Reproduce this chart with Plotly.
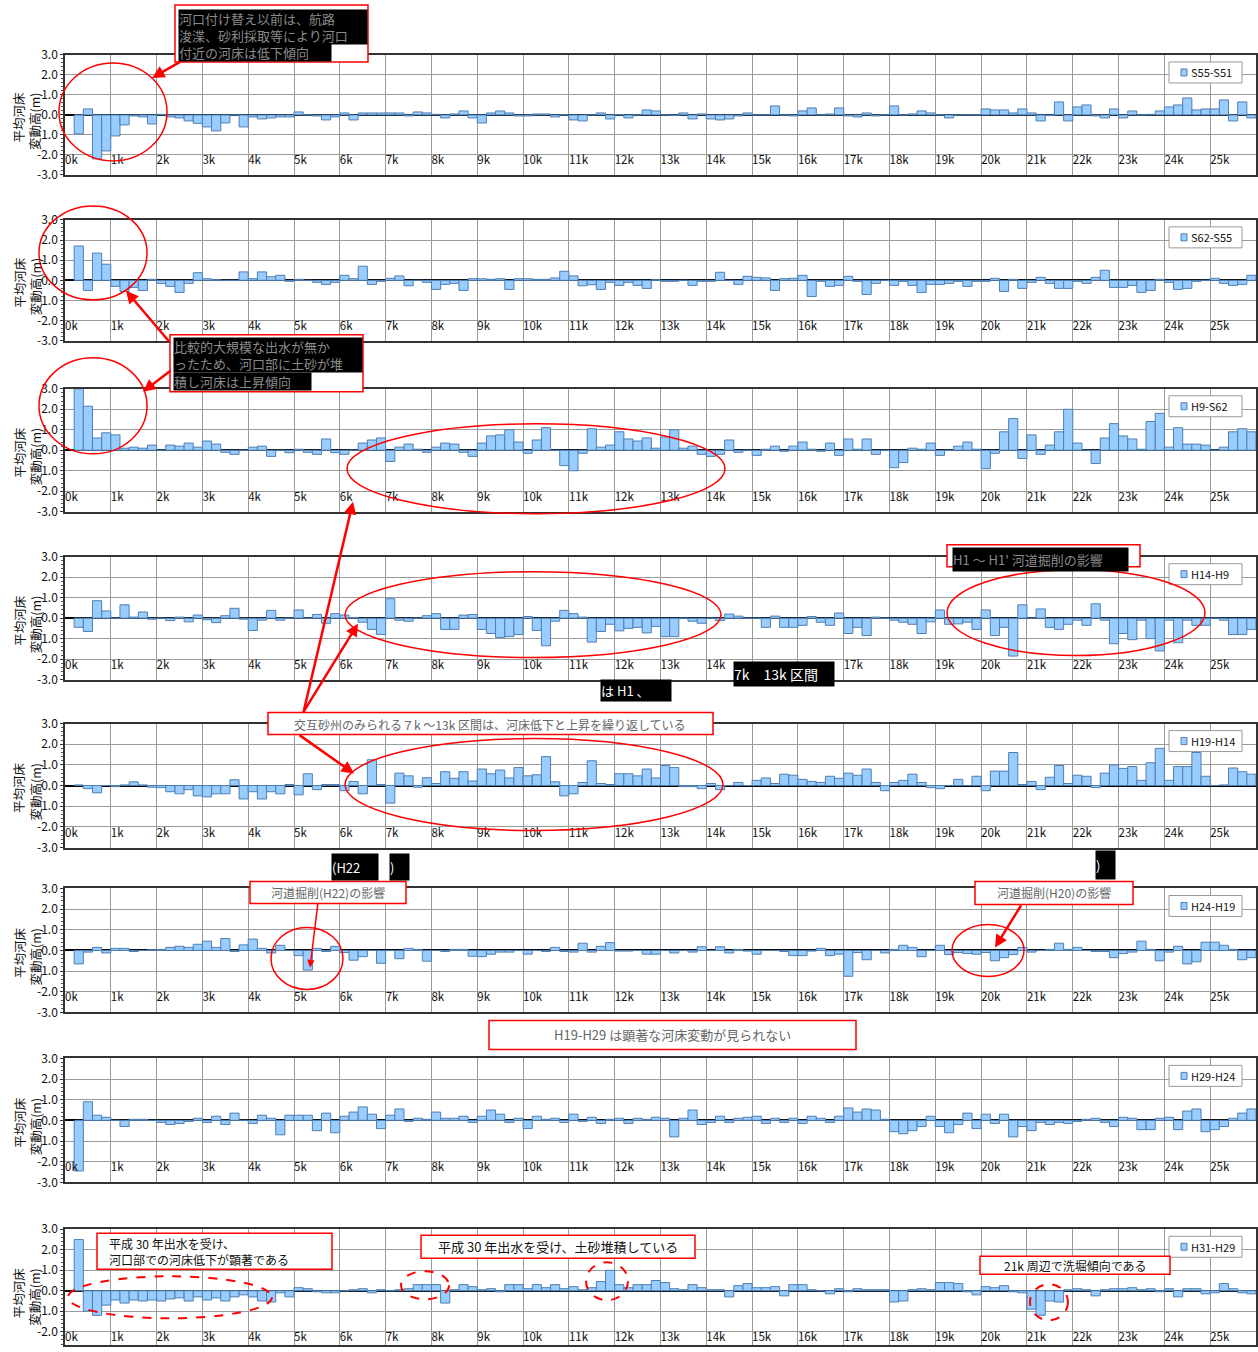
import plotly.graph_objects as go

W, H = 1258, 1352
FONT = "Noto Sans CJK JP"

# ---- data -------------------------------------------------------------
DIST = [round(0.2 * i, 1) for i in range(1, 130)]          # bar start (km)
KM_TICKS = list(range(0, 26))
KM_LABELS = [f"{k}k" for k in KM_TICKS]
Y_TICKS = [3, 2, 1, 0, -1, -2, -3]
Y_LABELS = ["3.0", "2.0", "1.0", "0.0", "-1.0", "-2.0", "-3.0"]
SERIES_NAMES = ["S55-S51", "S62-S55", "H9-S62", "H14-H9",
                "H19-H14", "H24-H19", "H29-H24", "H31-H29"]
HIDDEN_LABELS = {3: (15, 16)}   # km labels covered by the black note box in panel 4

s55_s51 = [-0.95, 0.3, -2.2, -1.8,
           -1.05, -0.5, -0.05, -0.1, -0.45,
           0.03, -0.1, -0.15, -0.3, -0.42,
           -0.6, -0.8, -0.4, 0, -0.6,
           -0.1, -0.2, -0.15, -0.1, -0.1,
           0.15, 0, -0.05, -0.25, -0.1,
           0.1, -0.25, 0.1, 0.1, 0.1,
           0.1, 0.1, -0.05, 0.15, 0.1,
           0.03, -0.15, 0.05, 0.2, -0.15,
           -0.4, 0.1, 0.2, 0.1, -0.05,
           -0.05, 0.05, 0.05, -0.1, 0,
           -0.25, -0.3, 0, 0.1, -0.2,
           0.02, -0.15, 0, 0.25, 0.2,
           0, -0.03, 0.1, -0.2, 0.05,
           -0.2, -0.25, -0.2, -0.05, 0.1,
           0, 0, 0.45, 0, -0.05,
           0.2, 0.35, 0, 0.05, 0.35,
           -0.05, -0.1, 0.1, -0.05, 0,
           0.45, 0, 0.05, 0.2, 0.1,
           0, -0.15, 0, 0, 0,
           0.3, 0.25, 0.25, 0.1, 0.3,
           0.1, -0.3, -0.03, 0.65, -0.3,
           0.4, 0.5, -0.05, -0.15, 0.3,
           -0.15, 0.2, 0, 0.03, 0.2,
           0.4, 0.5, 0.85, 0.25, 0.3,
           0.3, 0.75, -0.3, 0.65, -0.15]

s62_s55 = [1.7, -0.5, 1.35, 0.8,
           -0.3, -0.55, -0.35, -0.5, 0.05,
           -0.15, -0.3, -0.6, -0.15, 0.38,
           0.08, 0.03, 0, 0, 0.42,
           0.08, 0.42, 0.18, 0.25, -0.05,
           0.05, 0, -0.1, -0.2, -0.1,
           0.25, 0.08, 0.7, -0.2, -0.05,
           0.1, 0.22, -0.27, 0, -0.1,
           -0.45, -0.2, -0.15, -0.5, 0.08,
           0.08, 0.05, 0.08, -0.45, 0.08,
           0.08, 0.05, 0.05, 0.12, 0.45,
           0.22, -0.27, -0.22, -0.45, -0.1,
           -0.25, -0.1, -0.25, -0.4, 0.03,
           -0.05, -0.05, 0, -0.25, -0.05,
           -0.05, 0.4, 0, -0.2, 0.2,
           0.15, 0.12, -0.5, 0.08, 0.1,
           0.25, -0.8, -0.05, -0.3, -0.25,
           0.2, -0.05, -0.7, -0.15, 0,
           -0.25, -0.05, -0.25, -0.6, -0.2,
           -0.2, -0.15, -0.05, -0.3, -0.05,
           -0.05, 0.1, -0.55, 0.05, -0.4,
           -0.1, 0.15, -0.15, -0.4, -0.4,
           -0.05, -0.15, 0.15, 0.5, -0.35,
           -0.35, -0.25, -0.6, -0.5, 0.05,
           -0.1, -0.45, -0.4, -0.05, 0,
           0.1, -0.15, -0.25, -0.2, 0.25]

h9_s62 = [3.0, 2.15, 0.6, 0.85,
          0.75, 0.1, 0.15, 0.1, 0.25,
          0, 0.25, 0.2, 0.35, 0.15,
          0.45, 0.3, -0.1, -0.2, 0,
          0.15, 0.2, -0.3, 0, -0.12,
          0.05, -0.1, -0.2, 0.55, -0.12,
          -0.2, 0, 0.35, 0.5, 0.6,
          -0.55, 0.15, 0.3, 0.05, -0.1,
          0.15, 0.35, 0.3, -0.1, -0.3,
          0.35, 0.7, 0.75, 1.0, 0.4,
          -0.15, 0.5, 1.1, 0, -0.75,
          -1.0, -0.15, 1.05, 0.15, 0.25,
          0.9, 0.55, 0.45, 0.6, 0.1,
          0.65, 1.0, 0.1, 0.2, -0.2,
          -0.3, -0.2, 0.5, -0.1, 0,
          -0.25, 0.05, 0.2, -0.05, 0.2,
          0.4, 0.05, -0.05, 0.35, -0.25,
          0.55, 0.05, 0.55, -0.2, 0,
          -0.85, -0.6, 0.1, 0.05, 0.35,
          -0.25, 0, 0.2, 0.4, 0.05,
          -0.9, -0.15, 0.9, 1.55, -0.4,
          0.75, -0.2, 0.25, 0.9, 2.0,
          0.35, 0, -0.65, 0.6, 1.3,
          0.7, 0.55, 0.05, 1.4, 1.8,
          0.15, 1.1, 0.3, 0.3, 0.25,
          0, 0.15, 0.9, 1.05, 0.9]

h14_h9 = [-0.45, -0.65, 0.85, 0.35,
          0, 0.65, 0.05, 0.3, -0.05,
          0, -0.12, 0.05, -0.18, 0.15,
          -0.08, -0.22, 0.12, 0.48, -0.05,
          -0.6, -0.1, 0.38, -0.1, 0,
          0.4, 0, 0.18, -0.25, 0.22,
          0.15, 0.03, -0.2, -0.55, -0.8,
          0.95, -0.1, -0.15, 0, 0.12,
          0.22, -0.55, -0.55, 0.15, 0.18,
          -0.55, -0.75, -0.95, -0.9, -0.8,
          0.08, -0.6, -1.35, -0.15, 0.38,
          0.22, 0.05, -1.17, -0.65, -0.3,
          -0.62, -0.5, -0.45, -0.72, -0.4,
          -0.9, -0.9, 0, -0.15, -0.25,
          0, -0.12, 0.2, 0.1, 0,
          0, -0.45, 0.1, -0.45, -0.45,
          -0.35, 0.08, -0.2, -0.35, 0.25,
          -0.75, -0.45, -0.85, 0.05, 0,
          -0.1, -0.2, -0.3, -0.75, -0.18,
          0.4, -0.3, -0.28, -0.2, -0.55,
          0.4, -0.85, -0.45, -1.85, 0.65,
          0, 0.45, -0.45, -0.55, -0.3,
          -0.1, -0.35, 0.7, -0.1, -1.25,
          -0.75, -1.05, -0.1, -1.0, -1.6,
          -0.1, -1.2, -0.1, -0.35, -0.35,
          0, -0.1, -0.8, -0.8, -0.55]

h19_h14 = [0.03, -0.15, -0.35, 0,
           -0.05, 0.03, 0.18, 0.03, -0.08,
           -0.1, -0.3, -0.4, -0.2, -0.5,
           -0.55, -0.4, -0.4, 0.28, -0.65,
           -0.3, -0.65, -0.3, -0.4, 0.05,
           -0.45, 0.57, -0.2, 0.05, 0.05,
           -0.25, 0.2, -0.4, 1.25, 0.05,
           -0.85, 0.6, 0.47, -0.08, 0.38,
           0.1, 0.67, 0.35, 0.67, 0.22,
           0.8, 0.57, 0.75, 0.37, 0.87,
           0.47, 0.52, 1.4, 0.18, -0.5,
           -0.4, 0.15, 1.2, 0.1, 0.05,
           0.57, 0.57, 0.47, 0.8, 0.37,
           0.97, 0.87, -0.05, -0.05, -0.15,
           0.1, -0.2, 0, 0.15, 0,
           0.25, 0.37, 0.1, 0.55, 0.5,
           0.3, 0.2, 0.15, 0.45, 0.35,
           0.6, 0.5, 0.8, 0.15, -0.25,
           0.15, 0.25, 0.55, 0.15, -0.1,
           -0.15, 0, 0.3, 0, 0.45,
           -0.25, 0.7, 0.7, 1.6, 0.05,
           0.2, -0.2, 0.4, 0.97, 0.1,
           0.5, 0.45, -0.1, 0.6, 1.0,
           0.83, 0.92, 0.25, 1.1, 1.8,
           0.25, 0.92, 0.92, 1.6, 0.45,
           0, 0.03, 0.85, 0.67, 0.55]

h24_h19 = [-0.65, -0.08, 0.15, -0.12,
           0.1, 0.1, -0.05, 0, 0.03,
           0.05, 0.15, 0.2, 0.15, 0.3,
           0.45, 0.15, 0.58, -0.05, 0.27,
           0.55, 0.1, -0.12, 0.25, 0,
           -0.25, -0.95, 0.1, -0.05, 0.2,
           -0.1, -0.47, -0.3, 0, -0.62,
           0, -0.4, 0.1, 0.05, -0.52,
           0, -0.05, 0.05, 0.05, -0.28,
           -0.3, -0.18, -0.08, -0.08, 0,
           -0.18, 0, -0.05, 0.15, -0.05,
           -0.08, 0.35, -0.08, 0.2, 0.38,
           -0.03, -0.03, 0, -0.18, -0.18,
           0, -0.12, 0, -0.08, 0.18,
           0, 0.18, -0.12, 0.05, -0.03,
           -0.18, 0, 0, -0.05, -0.25,
           -0.25, -0.03, 0.1, -0.25, -0.18,
           -1.25, -0.1, -0.45, 0, -0.12,
           0.05, 0.25, 0.15, -0.3, 0,
           0.25, -0.2, -0.1, -0.15, -0.18,
           -0.1, -0.5, -0.35, -0.2, 0.15,
           -0.08, 0, 0.05, 0.35, 0.05,
           0.15, 0, -0.05, -0.05, -0.35,
           -0.15, -0.08, 0.45, 0.05, -0.5,
           -0.08, 0.2, -0.65, -0.55, 0.4,
           0.4, 0.25, 0.05, -0.45, -0.35]

h29_h24 = [-2.45, 0.9, 0.25, 0.15,
           0, -0.3, 0.05, 0.05, 0,
           -0.1, -0.2, -0.15, -0.05, 0.1,
           -0.1, 0.2, -0.2, 0.35, 0,
           -0.15, 0.25, 0.1, -0.7, 0.25,
           0.25, 0.25, -0.5, 0.35, -0.6,
           0.2, 0.4, 0.65, 0.3, -0.4,
           0.25, 0.55, -0.05, 0.1, 0.05,
           0.4, 0.1, 0.1, 0.2, -0.1,
           0.2, 0.5, 0.3, -0.1, 0.1,
           -0.4, 0.2, 0.05, 0.1, -0.1,
           0.3, -0.05, 0.15, -0.15, 0.05,
           0.1, -0.15, 0.1, 0.05, 0.15,
           0.1, -0.8, 0.1, 0.5, -0.2,
           -0.1, 0.2, -0.1, 0.1, 0.15,
           0.2, -0.15, 0.1, -0.1, 0.1,
           -0.15, 0.2, 0.1, -0.1, 0.2,
           0.6, 0.4, 0.55, 0.5, 0.05,
           -0.55, -0.65, -0.5, -0.3, 0.2,
           -0.3, -0.6, -0.2, 0.35, -0.4,
           0.3, -0.15, 0.3, -0.8, -0.3,
           -0.5, -0.1, -0.2, -0.1, -0.15,
           -0.05, 0.05, 0.1, -0.1, -0.3,
           0.15, 0.1, -0.45, -0.45, 0.1,
           0.15, -0.45, 0.45, 0.55, -0.55,
           -0.45, -0.3, 0.1, 0.35, 0.55]

h31_h29 = [2.5, -1.0, -1.2, -0.7,
           -0.45, -0.6, -0.45, -0.5, -0.45,
           -0.5, -0.4, -0.35, -0.5, -0.3,
           -0.45, -0.35, -0.5, -0.3, -0.2,
           -0.3, -0.5, -0.55, -0.1, -0.3,
           0.15, 0.1, -0.05, -0.1, -0.1,
           0, 0.05, 0.1, -0.1, 0.05,
           0, 0.05, 0.1, 0.3, 0.3,
           0.3, -0.6, 0.05, 0.3, 0.2,
           0.05, 0.1, -0.05, 0.3, 0.3,
           0.1, 0.3, 0.15, 0.3, 0.1,
           0.2, 0.05, 0.15, 0.45, 1.0,
           0.3, 0.15, 0.3, 0.3, 0.5,
           0.4, 0.1, 0.05, 0.3, 0.15,
           0.05, 0.05, -0.3, 0.25, 0.35,
           0.15, 0.15, 0.2, -0.25, 0.3,
           0.3, 0.05, 0, -0.15, 0.1,
           -0.05, 0.1, 0.05, 0.05, 0.05,
           -0.55, -0.5, 0.05, 0.1, 0.05,
           0.4, 0.4, 0.35, -0.05, -0.2,
           0.2, 0.15, 0.25, -0.05, -0.1,
           -0.9, -1.2, -0.5, -0.55, 0.05,
           0.1, 0.05, -0.25, 0.05, 0.1,
           0.1, 0.15, 0.05, 0.1, -0.05,
           0.1, -0.3, 0.1, 0.1, -0.15,
           -0.1, 0.35, 0.1, -0.1, -0.15]

SERIES = [s55_s51, s62_s55, h9_s62, h14_h9, h19_h14, h24_h19, h29_h24, h31_h29]

# ---- layout helpers (target pixel -> paper) ---------------------------
# the page photo adds ~8px above the figure and squeezes it vertically a little;
# target positions are pre-compensated so they land where the reference has them.
OFF_Y, SCALE_Y = 8.0, 0.988


def PX(x):
    return x / W


def YP(y):
    """target pixel row -> figure pixel row"""
    return (y - OFF_Y) / SCALE_Y


def PY(y):
    return 1 - YP(y) / H


PANELS = [(53, 173), (218, 339), (387, 510), (555, 678),
          (722, 846), (887, 1011), (1057, 1181), (1228, 1351)]
X_LEFT, X_RIGHT = 65, 1256

BAR_FILL = "#99CCFF"
BAR_LINE = "#4F7FB0"
GRID = "#9a9a9a"
RED = "#FF0000"

fig = go.Figure()
layout = dict(width=W, height=H, margin=dict(l=0, r=0, t=0, b=0),
              paper_bgcolor="white", plot_bgcolor="white",
              showlegend=False, font=dict(family=FONT, color="black"))
shapes, annotations = [], []

for i, (top, bot) in enumerate(PANELS):
    n = "" if i == 0 else str(i + 1)
    xa, ya = "x" + n, "y" + n
    t_f, b_f = YP(top), YP(bot)
    ymin = -3.0
    if b_f > H:                       # bottom of the last panel runs off the page
        ymin = 3.0 - 6.0 * (H - t_f) / (b_f - t_f)
        b_f = H
    hidden = HIDDEN_LABELS.get(i, ())
    labels = ["" if k in hidden else lab for k, lab in zip(KM_TICKS, KM_LABELS)]
    fig.add_trace(go.Bar(x=DIST, y=SERIES[i], width=0.2, offset=0,
                         marker=dict(color=BAR_FILL, line=dict(color=BAR_LINE, width=1)),
                         xaxis=xa, yaxis=ya, name=SERIES_NAMES[i], hoverinfo="x+y"))
    fig.add_trace(go.Scatter(x=KM_TICKS, y=[-2.33] * len(KM_TICKS), mode="text",
                             text=labels, textposition="middle right",
                             textfont=dict(size=11.5, color="#111", family=FONT),
                             xaxis=xa, yaxis=ya, hoverinfo="skip", showlegend=False))
    layout["xaxis" + n] = dict(domain=[PX(X_LEFT), PX(X_RIGHT)], range=[0, 26],
                               anchor=ya, tick0=0, dtick=1, showgrid=True,
                               gridcolor=GRID, gridwidth=1, showticklabels=False,
                               ticks="", zeroline=False, showline=True, mirror=True,
                               linecolor="#333", linewidth=1.5, fixedrange=True)
    layout["yaxis" + n] = dict(domain=[1 - b_f / H, 1 - t_f / H], range=[ymin, 3], anchor=xa,
                               tickvals=Y_TICKS, ticktext=Y_LABELS,
                               tickfont=dict(size=12, color="#111", family=FONT),
                               showgrid=True, gridcolor=GRID, gridwidth=1,
                               zeroline=True, zerolinecolor="black", zerolinewidth=1.5,
                               showline=True, mirror=True, linecolor="#333", linewidth=1.5,
                               ticks="outside", ticklen=3, tickcolor="#333",
                               minor=dict(dtick=0.2, ticks="outside", ticklen=2, tickcolor="#555"),
                               fixedrange=True)
    # y-axis title
    annotations.append(dict(x=PX(27), y=PY((top + bot) / 2 + 6), xref="paper", yref="paper",
                            text="平均河床<br>変動高(m)", textangle=-90, showarrow=False,
                            align="right", font=dict(size=12.5, color="#111", family=FONT),
                            xanchor="center", yanchor="middle"))
    # legend box
    lt = top + 7
    shapes.append(dict(type="rect", xref="paper", yref="paper", x0=PX(1169), x1=PX(1242),
                       y0=PY(lt), y1=PY(lt + 21), line=dict(color="#999", width=1),
                       fillcolor="white", layer="above"))
    shapes.append(dict(type="rect", xref="paper", yref="paper", x0=PX(1181), x1=PX(1187),
                       y0=PY(lt + 7), y1=PY(lt + 14), line=dict(color=BAR_LINE, width=1),
                       fillcolor=BAR_FILL, layer="above"))
    annotations.append(dict(x=PX(1189), y=PY(lt + 10.5), xref="paper", yref="paper",
                            text=SERIES_NAMES[i], showarrow=False, xanchor="left",
                            yanchor="middle", font=dict(size=11, color="#111", family=FONT)))


# ---- callouts ---------------------------------------------------------
def red_rect(x0, y0, x1, y1, fill=None):
    shapes.append(dict(type="rect", xref="paper", yref="paper", x0=PX(x0), x1=PX(x1),
                       y0=PY(y0), y1=PY(y1), line=dict(color=RED, width=1.5),
                       fillcolor=fill if fill else "rgba(0,0,0,0)", layer="above"))


def ellipse(cx, cy, rx, ry, width=1.5, dash="solid"):
    shapes.append(dict(type="circle", xref="paper", yref="paper",
                       x0=PX(cx - rx), x1=PX(cx + rx), y0=PY(cy + ry), y1=PY(cy - ry),
                       line=dict(color=RED, width=width, dash=dash), layer="above"))


def black_line(x, y, text, w, h=16.5, color="#8a8a8a", size=13):
    annotations.append(dict(x=PX(x), y=PY(y), xref="paper", yref="paper", text=text,
                            showarrow=False, xanchor="left", yanchor="top",
                            width=w, height=h, align="left", valign="middle",
                            bgcolor="black", borderpad=0,
                            font=dict(size=size, color=color, family=FONT)))


def box_text(cx, cy, text, size=12, color="#666", align="center", xanchor="center", x=None):
    annotations.append(dict(x=PX(cx if x is None else x), y=PY(cy), xref="paper", yref="paper",
                            text=text, showarrow=False, xanchor=xanchor, yanchor="middle",
                            align=align, font=dict(size=size, color=color, family=FONT)))


def arrow(hx, hy, tx, ty, width=2.5):
    annotations.append(dict(x=PX(hx), y=PY(hy), xref="paper", yref="paper", text="",
                            showarrow=True, ax=tx - hx, ay=YP(ty) - YP(hy), arrowcolor=RED,
                            arrowwidth=width, arrowhead=2, arrowsize=1))


# panel 1 callout
red_rect(175, 3, 368, 60, fill="white")
black_line(178, 6.5, "河口付け替え以前は、航路", 188)
black_line(178, 24, "浚渫、砂利採取等により河口", 188)
black_line(178, 41.5, "付近の河床は低下傾向", 152)
ellipse(113, 110, 54, 49)
arrow(152, 76, 182, 59)

# panel 2/3 callout
ellipse(93, 251, 54, 47)
red_rect(170, 333, 363, 390, fill="white")
black_line(173, 335, "比較的大規模な出水が無か", 188)
black_line(173, 352.5, "ったため、河口部に土砂が堆", 188)
black_line(173, 370, "積し河床は上昇傾向", 137)
arrow(126, 289, 170, 340)
arrow(143, 390, 172, 368)
ellipse(93, 404, 54, 48)
ellipse(536, 467, 189, 45)

# panel 4
ellipse(533, 613, 188, 43)
ellipse(1076, 611, 129, 43)
red_rect(947, 543, 1140, 565, fill="white")
black_line(952, 545, "H1 ～ H1' 河道掘削の影響", 175, h=23)
black_line(733, 659, "7k　13k 区間", 100, h=24, color="white", size=14)
black_line(600, 677, "は H1 、", 70, h=21, color="white", size=13)

# panel 5
red_rect(268, 711, 713, 733, fill="white")
box_text(490, 722.5, "交互砂州のみられる７k ～13k 区間は、河床低下と上昇を繰り返している", size=12)
ellipse(534, 783, 189, 46)
arrow(353, 500, 303, 710)
arrow(358, 622, 303, 710)
arrow(354, 772, 298, 733)
black_line(331, 851, "(H22", 46, h=26, color="white", size=13)
black_line(389, 851, ")", 19, h=26, color="white", size=13)
black_line(1095, 848, ")", 19, h=28, color="white", size=13)

# panel 6
red_rect(250, 880, 406, 902, fill="white")
box_text(328, 891, "河道掘削(H22)の影響", size=12)
arrow(310, 966, 318, 902, width=1.5)
ellipse(307, 957, 36, 31)
red_rect(975, 880, 1133, 903, fill="white")
box_text(1054, 891.5, "河道掘削(H20)の影響", size=12)
arrow(995, 946, 1022, 903)
ellipse(988, 949, 36, 26)

# between 6 and 7
red_rect(489, 1019, 856, 1048, fill="white")
box_text(672, 1033.5, "H19-H29 は顕著な河床変動が見られない", size=13)

# panel 8
red_rect(97, 1232, 332, 1268, fill="white")
box_text(0, 1250, "平成 30 年出水を受け、<br>河口部での河床低下が顕著である", size=12,
         color="#111", align="left", xanchor="left", x=107)
red_rect(421, 1234, 695, 1257, fill="white")
box_text(558, 1245.5, "平成 30 年出水を受け、土砂堆積している", size=13, color="#111")
red_rect(980, 1255, 1170, 1273, fill="white")
box_text(1075, 1264, "21k 周辺で洗堀傾向である", size=12, color="#111")
ellipse(170, 1296, 102, 21, width=2, dash="dash")
ellipse(425, 1284, 24, 14, width=2, dash="dash")
ellipse(607, 1280, 21, 19, width=2, dash="dash")
ellipse(1049, 1301, 19, 18, width=2, dash="dash")

layout["shapes"] = shapes
layout["annotations"] = annotations
fig.update_layout(**layout)
fig.write_html(
    "out.html",
    config={"displayModeBar": False},
    post_script=("document.documentElement.style.margin='0';"
                 "document.body.style.margin='0';"
                 "document.body.style.overflow='hidden';"
                 "var gd=document.getElementById('{plot_id}');"
                 "gd.style.position='fixed';gd.style.left='0px';gd.style.top='0px';"),
)
